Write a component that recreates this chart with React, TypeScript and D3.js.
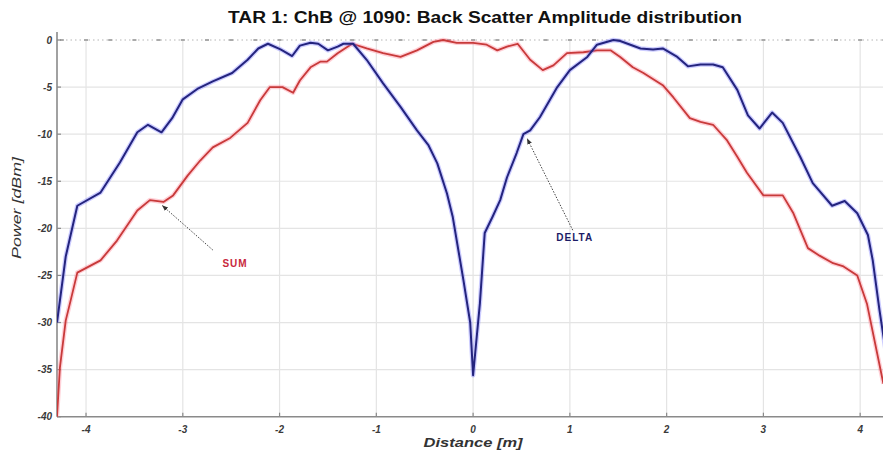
import React from "react";
import * as d3 from "d3";

const W = 883;
const H = 454;

const titleText = "TAR 1: ChB @ 1090: Back Scatter Amplitude distribution";
const xLabel = "Distance [m]";
const yLabel = "Power [dBm]";

const xTicks = [-4, -3, -2, -1, 0, 1, 2, 3, 4];
const yTicks = [0, -5, -10, -15, -20, -25, -30, -35, -40];

const deltaX = [-4.3, -4.21, -4.09, -3.85, -3.65, -3.47, -3.36, -3.22, -3.11, -3.0, -2.85, -2.69, -2.49, -2.33, -2.22, -2.12, -1.99, -1.87, -1.79, -1.68, -1.6, -1.5, -1.4, -1.34, -1.24, -1.1, -0.93, -0.75, -0.58, -0.46, -0.37, -0.27, -0.21, -0.1, -0.03, 0.0, 0.07, 0.12, 0.2, 0.28, 0.35, 0.45, 0.52, 0.59, 0.69, 0.87, 1.0, 1.18, 1.28, 1.45, 1.52, 1.73, 1.86, 1.96, 2.11, 2.22, 2.35, 2.48, 2.58, 2.73, 2.84, 2.96, 3.09, 3.2, 3.38, 3.51, 3.71, 3.84, 3.97, 4.08, 4.13, 4.2, 4.27];
const deltaY = [-30, -23, -17.6, -16.2, -13, -9.8, -9.0, -9.8, -8.3, -6.3, -5.2, -4.4, -3.5, -2.1, -0.9, -0.4, -1.0, -1.7, -0.6, -0.3, -0.4, -1.1, -0.7, -0.4, -0.4, -2.1, -4.6, -7.1, -9.6, -11.2, -13.1, -16.3, -18.8, -25.5, -30, -35.6, -28, -20.5, -18.8, -17, -14.6, -12, -10, -9.6, -8.2, -5.0, -3.2, -1.8, -0.5, 0, -0.1, -0.9, -1.0, -0.9, -1.8, -2.8, -2.6, -2.6, -2.9, -5.3, -8.0, -9.4, -7.7, -8.8, -12.4, -15.2, -17.6, -17.1, -18.4, -20.7, -23.4, -28.7, -33.5];

const sumX = [-4.3, -4.27, -4.21, -4.16, -4.09, -3.85, -3.68, -3.47, -3.34, -3.2, -3.1, -2.95, -2.82, -2.69, -2.51, -2.33, -2.2, -2.1, -1.97, -1.86, -1.79, -1.68, -1.58, -1.51, -1.4, -1.25, -1.1, -0.93, -0.75, -0.58, -0.41, -0.31, -0.17, 0.0, 0.14, 0.25, 0.35, 0.46, 0.59, 0.72, 0.83, 0.97, 1.14, 1.28, 1.42, 1.52, 1.65, 1.76, 1.96, 2.07, 2.24, 2.35, 2.48, 2.62, 2.73, 2.83, 3.0, 3.2, 3.31, 3.46, 3.58, 3.72, 3.82, 3.97, 4.07, 4.24];
const sumY = [-40, -34.8, -29.8, -27.7, -24.7, -23.4, -21.3, -18.1, -17, -17.2, -16.5, -14.4, -12.8, -11.4, -10.4, -8.8, -6.4, -5.0, -5.0, -5.6, -4.3, -2.9, -2.3, -2.3, -1.4, -0.4, -0.9, -1.4, -1.8, -1.1, -0.2, 0, -0.3, -0.3, -0.5, -1.1, -0.7, -0.4, -2.1, -3.2, -2.7, -1.4, -1.3, -1.1, -1.1, -1.8, -2.9, -3.5, -4.8, -6.1, -8.3, -8.7, -9.0, -10.6, -12.4, -14.1, -16.5, -16.5, -18.4, -22.1, -22.9, -23.7, -24, -25, -28, -36.5];

const topMarkers = d3.range(-4.25, 4.3, 0.25);

const sumNote = { label: "SUM", tx: -2.46, ty: -24.1, fx: -2.69, fy: -22.3, ax: -3.21, ay: -17.6 };
const deltaNote = { label: "DELTA", tx: 1.05, ty: -21.3, fx: 1.03, fy: -20.2, ax: 0.56, ay: -10.5 };

export default function App() {
  const x = d3.scaleLinear().domain([-4.3, 4.3]).range([57, 889.2]);
  const y = d3.scaleLinear().domain([-40, 0]).range([416.7, 40]);
  const line = d3
    .line<[number, number]>()
    .x((d) => x(d[0]))
    .y((d) => y(d[1]));
  const deltaPts = deltaX.map((v, i) => [v, deltaY[i]] as [number, number]);
  const sumPts = sumX.map((v, i) => [v, sumY[i]] as [number, number]);
  const font = "'Liberation Sans', Arial, sans-serif";
  const left = x(-4.3);
  const bottom = y(-40);

  return (
    <svg
      width={W}
      height={H}
      style={{ position: "absolute", left: 0, top: 0, background: "#fff" }}
      fontFamily={font}
    >
      <defs>
        <clipPath id="plot">
          <rect x={left} y={28} width={W - left} height={bottom - 28 + 2} />
        </clipPath>
        <marker id="arr" viewBox="0 0 10 10" refX="9" refY="5" markerWidth="6" markerHeight="6" orient="auto">
          <path d="M0,1 L10,5 L0,9 z" fill="#333" />
        </marker>
      </defs>
      <rect x={0} y={0} width={W} height={H} fill="#fff" />
      {/* grid */}
      {xTicks.map((t) => (
        <line key={"gx" + t} x1={x(t)} x2={x(t)} y1={y(0)} y2={bottom} stroke="#e4e4e4" strokeWidth={1.2} />
      ))}
      {yTicks.slice(1, -1).map((t) => (
        <line key={"gy" + t} x1={left} x2={W} y1={y(t)} y2={y(t)} stroke="#e4e4e4" strokeWidth={1.2} />
      ))}
      {/* top dotted reference line */}
      <line x1={left} x2={W} y1={y(0)} y2={y(0)} stroke="#b5b5b5" strokeWidth={1} strokeDasharray="1.5,3" />
      {topMarkers.map((t) => (
        <line key={"tm" + t} x1={x(t) - 2} x2={x(t) + 2} y1={y(0)} y2={y(0)} stroke="#aaa" strokeWidth={2} />
      ))}
      {/* axes */}
      <line x1={left} x2={left} y1={32} y2={bottom} stroke="#8a8a8a" strokeWidth={1.6} />
      <line x1={left} x2={W} y1={bottom} y2={bottom} stroke="#8a8a8a" strokeWidth={1.6} />
      {xTicks.map((t) => (
        <line key={"tx" + t} x1={x(t)} x2={x(t)} y1={bottom} y2={bottom - 4} stroke="#8a8a8a" strokeWidth={1.2} />
      ))}
      {yTicks.map((t) => (
        <line key={"ty" + t} x1={left} x2={left + 4} y1={y(t)} y2={y(t)} stroke="#8a8a8a" strokeWidth={1.2} />
      ))}
      {/* tick labels */}
      {yTicks.map((t) => (
        <text key={"yl" + t} x={left - 5} y={y(t) + 3.5} textAnchor="end" fontSize={10} fontWeight="bold" fontStyle="italic" fill="#3a3a3a">
          {t}
        </text>
      ))}
      {xTicks.map((t) => (
        <text key={"xl" + t} x={x(t)} y={bottom + 16} textAnchor="middle" fontSize={10} fontWeight="bold" fontStyle="italic" fill="#3a3a3a">
          {t}
        </text>
      ))}
      {/* series */}
      <g clipPath="url(#plot)">
        <path d={line(sumPts) ?? ""} fill="none" stroke="rgba(255,120,140,0.35)" strokeWidth={4.5} strokeLinejoin="round" />
        <path d={line(sumPts) ?? ""} fill="none" stroke="#c83a3a" strokeWidth={1.8} strokeLinejoin="round" />
        <path d={line(deltaPts) ?? ""} fill="none" stroke="rgba(110,110,255,0.35)" strokeWidth={4.5} strokeLinejoin="round" />
        <path d={line(deltaPts) ?? ""} fill="none" stroke="#24247e" strokeWidth={2} strokeLinejoin="round" />
      </g>
      {/* annotations */}
      <line x1={x(sumNote.fx)} y1={y(sumNote.fy)} x2={x(sumNote.ax)} y2={y(sumNote.ay)} stroke="#444" strokeWidth={1} strokeDasharray="1.5,1.5" markerEnd="url(#arr)" />
      <text x={x(sumNote.tx)} y={y(sumNote.ty)} textAnchor="middle" fontSize={10} fontWeight="bold" fill="#c8283c" letterSpacing={1}>
        {sumNote.label}
      </text>
      <line x1={x(deltaNote.fx)} y1={y(deltaNote.fy)} x2={x(deltaNote.ax)} y2={y(deltaNote.ay)} stroke="#444" strokeWidth={1} strokeDasharray="1.5,1.5" markerEnd="url(#arr)" />
      <text x={x(deltaNote.tx)} y={y(deltaNote.ty)} textAnchor="middle" fontSize={10} fontWeight="bold" fill="#1c1c66" letterSpacing={1}>
        {deltaNote.label}
      </text>
      {/* titles */}
      <text x={485} y={23} textAnchor="middle" fontSize={16} fontWeight="bold" fill="#111" textLength={514} lengthAdjust="spacingAndGlyphs">
        {titleText}
      </text>
      <text x={x(0)} y={447} textAnchor="middle" fontSize={12} fontWeight="bold" fontStyle="italic" fill="#333" textLength={99} lengthAdjust="spacingAndGlyphs">
        {xLabel}
      </text>
      <text transform={`translate(21,208) rotate(-90)`} textAnchor="middle" fontSize={12} fontStyle="italic" fill="#333" textLength={102} lengthAdjust="spacingAndGlyphs">
        {yLabel}
      </text>
    </svg>
  );
}
